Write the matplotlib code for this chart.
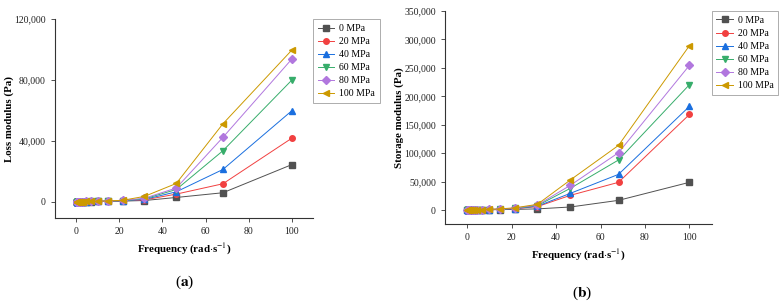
import numpy as np
import matplotlib.pyplot as plt
from matplotlib.ticker import FuncFormatter

plt.rcParams['font.family'] = ['Liberation Serif', 'DejaVu Serif']
plt.rcParams['mathtext.fontset'] = 'stix'

# angular frequency sweep (rad/s)
freq = [0.1, 0.147, 0.215, 0.316, 0.464, 0.681, 1.0, 1.47, 2.15, 3.16, 4.64,
        6.81, 10.0, 14.7, 21.5, 31.6, 46.4, 68.1, 100.0]

labels = ['0 MPa', '20 MPa', '40 MPa', '60 MPa', '80 MPa', '100 MPa']
colors = ['#515151', '#F14040', '#1A6FDF', '#37AD6B', '#B177DE', '#CC9900']
markers = ['s', 'o', '^', 'v', 'D', '<']

loss_0 = [2, 3, 4, 6, 8, 12, 18, 26, 38, 55, 80, 115, 170, 250, 420, 800, 2800, 5900, 24300]
loss_20 = [3, 4, 6, 8, 11, 16, 24, 35, 50, 72, 105, 150, 220, 330, 560, 1200, 5000, 11800, 41600]
loss_40 = [3, 5, 7, 9, 13, 19, 28, 40, 58, 84, 120, 175, 255, 380, 650, 1500, 6500, 21200, 59600]
loss_60 = [4, 5, 7, 10, 14, 21, 31, 45, 65, 95, 135, 200, 290, 430, 750, 1900, 8000, 33500, 79700]
loss_80 = [4, 6, 8, 11, 16, 23, 34, 50, 72, 105, 150, 220, 320, 480, 850, 2300, 9000, 42300, 93500]
loss_100 = [4, 6, 9, 12, 17, 25, 37, 55, 80, 115, 165, 240, 350, 530, 950, 3500, 12000, 51200, 99400]

stor_0 = [5, 8, 11, 16, 24, 35, 50, 75, 110, 160, 230, 340, 500, 740, 1100, 2000, 5300, 17000, 48700]
stor_20 = [8, 12, 18, 26, 38, 55, 80, 120, 175, 255, 370, 540, 800, 1200, 2200, 6000, 25800, 48700, 168000]
stor_40 = [9, 13, 19, 28, 40, 58, 85, 125, 185, 270, 390, 570, 850, 1300, 2500, 6800, 29300, 62700, 182300]
stor_60 = [10, 14, 20, 30, 43, 62, 90, 135, 200, 290, 420, 610, 900, 1500, 2900, 7800, 38100, 88000, 220400]
stor_80 = [10, 15, 22, 32, 46, 66, 95, 145, 215, 310, 450, 650, 960, 1700, 3300, 8800, 43400, 100800, 254400]
stor_100 = [11, 16, 23, 34, 49, 70, 100, 155, 230, 330, 480, 700, 1050, 2000, 3900, 10000, 52800, 113700, 289000]

loss = [loss_0, loss_20, loss_40, loss_60, loss_80, loss_100]
stor = [stor_0, stor_20, stor_40, stor_60, stor_80, stor_100]

fig = plt.figure(figsize=(7.82, 3.01), dpi=100)
ax1 = fig.add_axes([0.0703, 0.2757, 0.330, 0.661])
ax2 = fig.add_axes([0.569, 0.2558, 0.341, 0.7076])

comma = FuncFormatter(lambda v, p: f'{int(v):,}')


def draw(ax, data, ylabel, ylim, yticks, ylab_x):
    for j in range(len(labels)):
        ax.plot(freq, data[j], color=colors[j], marker=markers[j], markersize=4,
                linewidth=0.7, label=labels[j])
    ax.set_xlim(-10, 110)
    ax.set_ylim(*ylim)
    ax.set_xticks([0, 20, 40, 60, 80, 100])
    ax.set_yticks(yticks)
    ax.yaxis.set_major_formatter(comma)
    ax.spines['top'].set_visible(False)
    ax.spines['right'].set_visible(False)
    for s in ['left', 'bottom']:
        ax.spines[s].set_linewidth(0.8)
        ax.spines[s].set_color('#333333')
    ax.tick_params(labelsize=7, length=3, width=0.6, color='#333333', labelcolor='#222222')
    ax.set_xlabel(r'Frequency (rad$\cdot$s$^{-1}$)', fontsize=7.8, fontweight='bold')
    ax.set_ylabel(ylabel, fontsize=7.8, fontweight='bold')
    ax.yaxis.set_label_coords(ylab_x, 0.5)
    leg = ax.legend(loc='upper left', bbox_to_anchor=(1.0, 1.0), fontsize=7,
                    fancybox=False, edgecolor='#888888', borderaxespad=0,
                    handlelength=1.7, labelspacing=0.42, borderpad=0.5,
                    handletextpad=0.5)
    leg.get_frame().set_linewidth(0.6)


draw(ax1, loss, 'Loss modulus (Pa)', (-10700, 120000), [0, 40000, 80000, 120000], -0.16)
draw(ax2, stor, 'Storage modulus (Pa)', (-24600, 350000),
     [0, 50000, 100000, 150000, 200000, 250000, 300000, 350000], -0.155)

fig.text(185 / 782, 1 - 282 / 301, r'($\mathbf{a}$)', ha='center', va='center', fontsize=11)
fig.text(582 / 782, 1 - 293 / 301, r'($\mathbf{b}$)', ha='center', va='center', fontsize=11)

plt.savefig('out.png', dpi=100)
